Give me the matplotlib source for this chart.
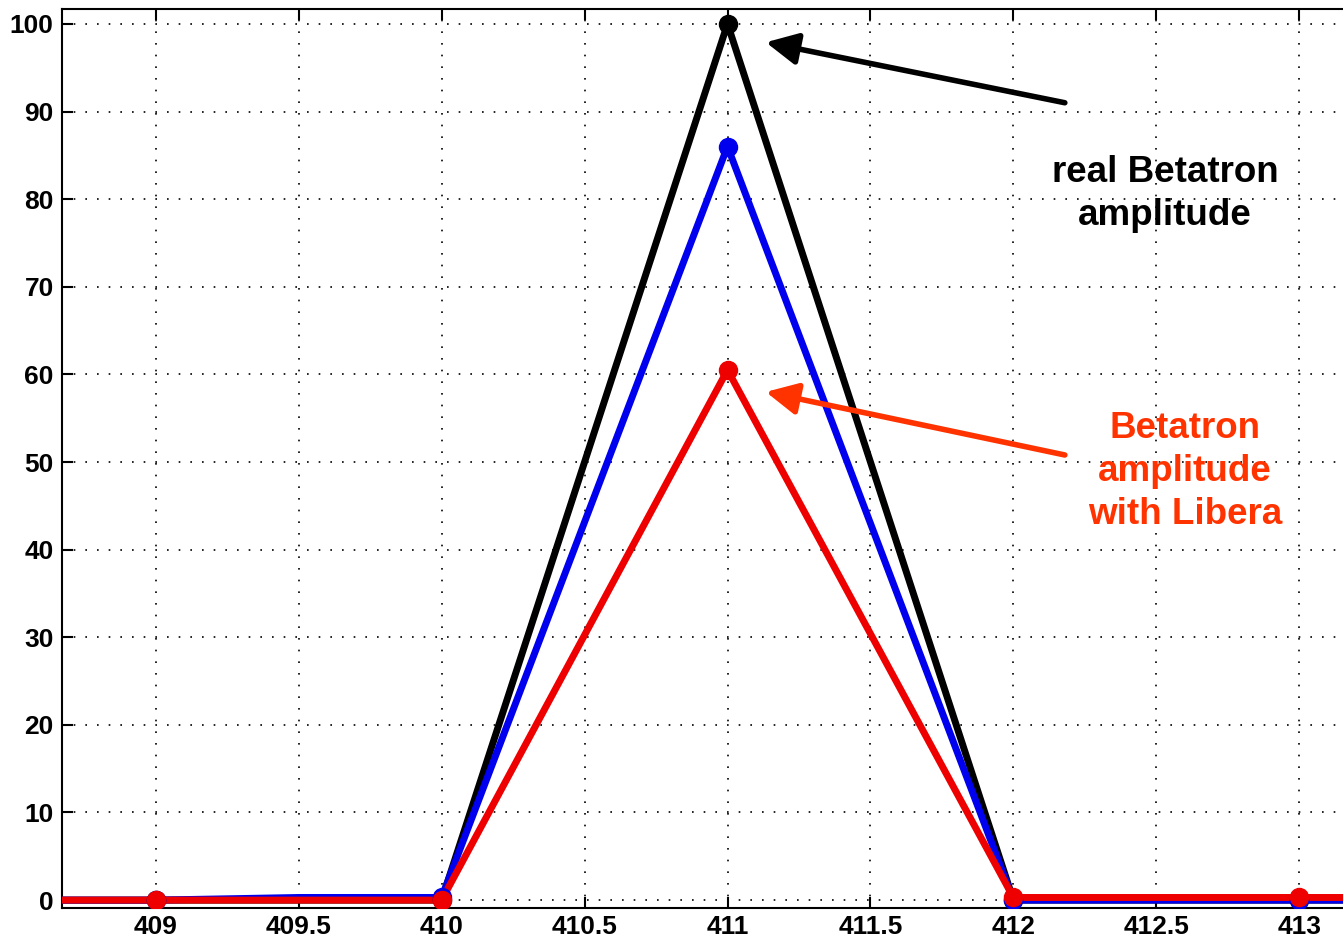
import numpy as np
import matplotlib.pyplot as plt

plt.rcParams['font.family'] = ['Liberation Sans', 'DejaVu Sans']
plt.rcParams['font.weight'] = 'bold'

# turn numbers around the resonance
turns = [408.5, 409, 409.5, 410, 411, 412, 412.5, 413, 413.5]
real_amp = [0, 0, 0, 0, 100, 0, 0, 0, 0]
meas_amp = [0, 0, 0.3, 0.3, 86, 0, 0, 0, 0]
libera_amp = [0, 0, 0, 0, 60.5, 0.3, 0.3, 0.3, 0.3]
marker_turns = [409, 410, 411, 412, 413]

fig = plt.figure(figsize=(13.43, 9.41), dpi=100)
ax = fig.add_axes([62 / 1343, 33 / 941, 1 - 62 / 1343 + 0.01, 899 / 941])

for y, c in [(real_amp, 'black'), (meas_amp, '#0000ee'), (libera_amp, '#ee0000')]:
    ax.plot(turns, y, color=c, lw=5, solid_joinstyle='round', zorder=3)
    mk = [y[turns.index(t)] for t in marker_turns]
    ax.plot(marker_turns, mk, 'o', color=c, ms=13, zorder=4)

ax.set_xlim(408.672, 413.2)
ax.set_ylim(-0.9, 101.7)
ax.set_xticks([409, 409.5, 410, 410.5, 411, 411.5, 412, 412.5, 413])
ax.set_xticklabels(['409', '409.5', '410', '410.5', '411', '411.5', '412', '412.5', '413'])
ax.set_yticks(np.arange(0, 101, 10))
ax.tick_params(direction='in', length=8, width=1.5, top=True, right=True,
               labelsize=19, pad=5)
ax.tick_params(axis='y', pad=6)
ax.grid(True, color='black', linestyle=(0, (1, 6)), lw=1.2)
for s in ax.spines.values():
    s.set_linewidth(1.5)

ax.annotate('', xy=(411.134, 97.9), xytext=(412.18, 91.0),
            arrowprops=dict(arrowstyle='-|>', color='black', lw=4, mutation_scale=48,
                            shrinkA=0, shrinkB=0))
ax.text(412.53, 80.6, 'real Betatron\namplitude', ha='center', va='center',
        fontsize=26.5, fontweight='bold', color='black', linespacing=1.3)

ax.annotate('', xy=(411.134, 58.0), xytext=(412.18, 50.8),
            arrowprops=dict(arrowstyle='-|>', color='#ff3300', lw=4, mutation_scale=48,
                            shrinkA=0, shrinkB=0))
ax.text(412.6, 48.9, 'Betatron\namplitude\nwith Libera', ha='center', va='center',
        fontsize=26.5, fontweight='bold', color='#ff3300', linespacing=1.3)

fig.savefig('out.png', dpi=100)
